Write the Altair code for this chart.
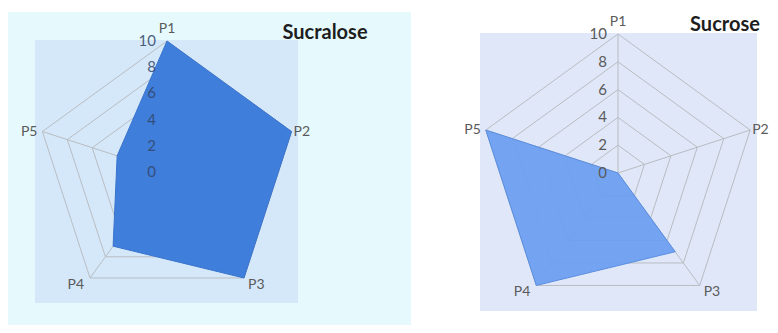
import altair as alt
import numpy as np
import pandas as pd

categories = ["P1", "P2", "P3", "P4", "P5"]
sucralose = [10, 10, 10, 7, 4]
sucrose = [0, 0, 7, 10, 10]
tick_values = [0, 2, 4, 6, 8, 10]
titles = ["Sucralose", "Sucrose"]
max_value = 10

FONT = "Lato"
GRID = "#b9bdc2"
LABEL = "#5a5a5a"

angles = [i * 2 * np.pi / len(categories) for i in range(len(categories))]


def polar(v, a):
    return float(v * np.sin(a)), float(v * np.cos(a))


def build_panel(values, title, w, h, xdom, ydom, bg, inner, inner_box, title_pos,
                fill, stroke, fill_opacity, tick_color, tick_opacity, outer_box=None):
    X = alt.X("x:Q", scale=alt.Scale(domain=xdom, nice=False, zero=False), axis=None)
    Y = alt.Y("y:Q", scale=alt.Scale(domain=ydom, nice=False, zero=False), axis=None)

    one = pd.DataFrame({"k": [0]})
    layers = []
    if outer_box is not None:
        layers.append(alt.Chart(one).mark_rect(color=bg).encode(
            x=alt.value(outer_box[0]), x2=alt.value(outer_box[1]),
            y=alt.value(outer_box[2]), y2=alt.value(outer_box[3])))
    layers.append(alt.Chart(one).mark_rect(color=inner).encode(
        x=alt.value(inner_box[0]), x2=alt.value(inner_box[1]),
        y=alt.value(inner_box[2]), y2=alt.value(inner_box[3])))

    # grid rings
    rows = []
    for t in tick_values[1:]:
        for i, a in enumerate(angles):
            x, y = polar(t, a)
            rows.append({"ring": t, "i": i, "x": x, "y": y})
    rings = pd.DataFrame(rows)
    layers.append(alt.Chart(rings).mark_line(
        interpolate="linear-closed", stroke=GRID, strokeWidth=1).encode(
        x=X, y=Y, detail="ring:N", order="i:Q"))

    # spokes
    srows = []
    for c, a in zip(categories, angles):
        x, y = polar(max_value, a)
        srows.append({"cat": c, "x0": 0.0, "y0": 0.0, "x": x, "y": y})
    spokes = pd.DataFrame(srows)
    layers.append(alt.Chart(spokes).mark_rule(stroke=GRID, strokeWidth=1).encode(
        x=alt.X("x0:Q", scale=alt.Scale(domain=xdom, nice=False, zero=False), axis=None),
        y=alt.Y("y0:Q", scale=alt.Scale(domain=ydom, nice=False, zero=False), axis=None),
        x2="x:Q", y2="y:Q"))

    # data polygon
    prow = []
    for i, (c, v, a) in enumerate(zip(categories, values, angles)):
        x, y = polar(v, a)
        prow.append({"cat": c, "i": i, "value": v, "x": x, "y": y})
    poly = pd.DataFrame(prow)
    layers.append(alt.Chart(poly).mark_line(
        interpolate="linear-closed", fill=fill, fillOpacity=fill_opacity,
        stroke=stroke, strokeWidth=1).encode(x=X, y=Y, order="i:Q"))

    # tick labels
    tdf = pd.DataFrame({"t": tick_values, "x": [0.0] * len(tick_values),
                        "y": [float(t) for t in tick_values]})
    layers.append(alt.Chart(tdf).mark_text(
        align="right", baseline="middle", dx=-11, font=FONT, fontSize=15,
        color=tick_color, opacity=tick_opacity).encode(x=X, y=Y, text="t:Q"))

    # category labels
    crow = []
    for c, a in zip(categories, angles):
        x, y = polar(max_value, a)
        crow.append({"cat": c, "x": x, "y": y})
    cdf = pd.DataFrame(crow)
    specs = {
        "P1": dict(align="center", baseline="bottom", dx=0, dy=-5),
        "P2": dict(align="left", baseline="middle", dx=2, dy=0),
        "P3": dict(align="left", baseline="top", dx=4, dy=0),
        "P4": dict(align="right", baseline="top", dx=-6, dy=0),
        "P5": dict(align="right", baseline="middle", dx=-5, dy=0),
    }
    for c in categories:
        s = specs[c]
        layers.append(alt.Chart(cdf[cdf["cat"] == c]).mark_text(
            font=FONT, fontSize=14, color=LABEL, **s).encode(x=X, y=Y, text="cat:N"))

    layers.append(alt.Chart(one).mark_text(
        text=title, font=FONT, fontSize=20, fontWeight="bold", color="#1e1e1e",
        align="center", baseline="middle").encode(
        x=alt.value(title_pos[0]), y=alt.value(title_pos[1])))

    return alt.layer(*layers).properties(width=w, height=h)


H = 317
# left panel: page x 8..411, center (167,172), radius 131
lw, lcx, lcy, lR = 403, 159, 164, 131
lscale = lR / max_value
left = build_panel(
    sucralose, titles[0], lw, H,
    [-lcx / lscale, (lw - lcx) / lscale], [-(H - lcy) / lscale, lcy / lscale],
    bg="#e6fafe", inner="#d4e8f9", inner_box=(27, 290, 32, 295),
    title_pos=(317, 25), fill="#3f7edb", stroke="#3a74cc", fill_opacity=1.0,
    tick_color="#34466a", tick_opacity=0.85, outer_box=(0, lw, 4, H))

# right panel: page x 411..770, center (618,173), radius 139
rw, rcx, rcy, rR = 359, 207, 165, 139
rscale = rR / max_value
right = build_panel(
    sucrose, titles[1], rw, H,
    [-rcx / rscale, (rw - rcx) / rscale], [-(H - rcy) / rscale, rcy / rscale],
    bg="#ffffff", inner="#dfe7f9", inner_box=(69, 346, 25, 303),
    title_pos=(314, 17), fill="#6a9ef0", stroke="#5a8ee0", fill_opacity=0.92,
    tick_color=LABEL, tick_opacity=1.0)

chart = alt.hconcat(left, right, spacing=0).properties(padding=0).configure_view(
    strokeWidth=0)

chart.save("out.html", embed_options={"renderer": "svg", "actions": False})
